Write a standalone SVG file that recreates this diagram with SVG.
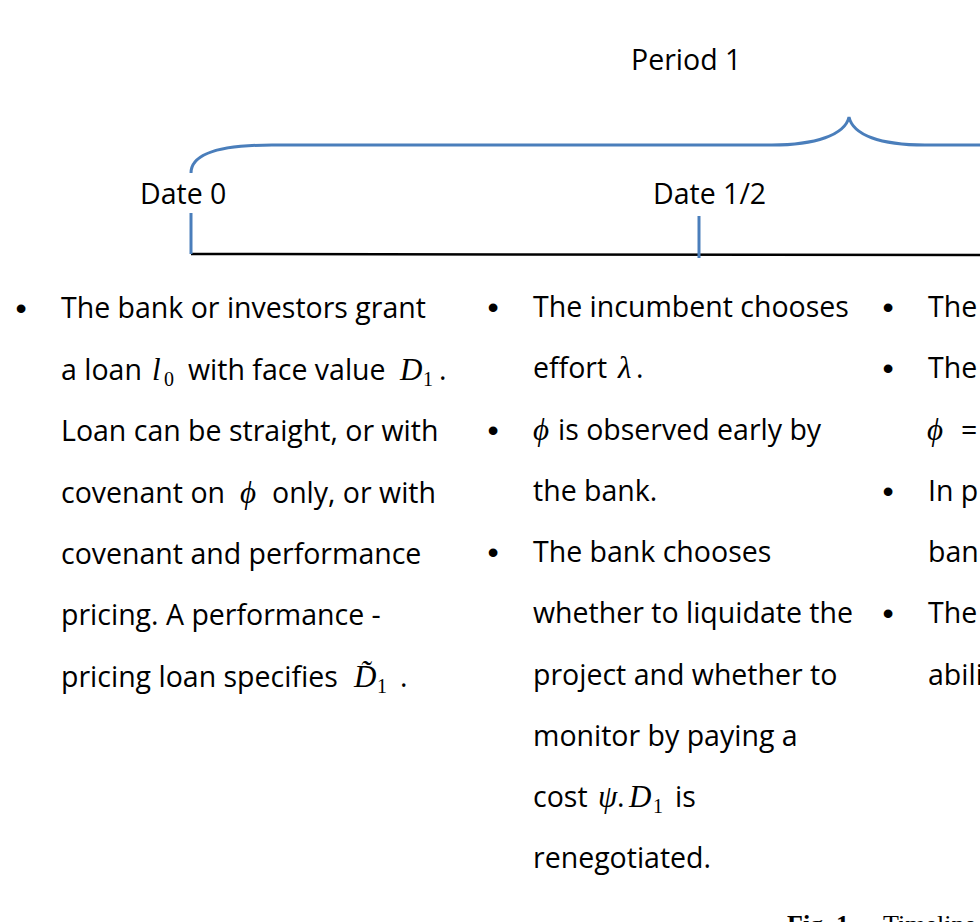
<svg xmlns="http://www.w3.org/2000/svg" width="980" height="922" viewBox="0 0 980 922">
<style>
.t{font-family:"Open Sans","Liberation Sans",sans-serif;font-size:28.5px;fill:#000}
.m{font-family:"Liberation Serif","DejaVu Serif",serif;font-style:italic;font-size:31px;fill:#000}
.s{font-family:"Liberation Serif","DejaVu Serif",serif;font-size:20px;fill:#000}
.b{font-family:"Liberation Sans",sans-serif;font-size:32px;fill:#000}
.blue{fill:none;stroke:#4a7ebb;stroke-width:3}
.cap{font-family:"Liberation Serif",serif;font-size:26px;fill:#000}
</style>
<rect width="980" height="922" fill="#fff"/>
<g id="connectors">
  <path class="blue" d="M191,173 C191,154 218,145 272,145 L772,145 C815,145 845,135 849,117 C853,135 880,145 925,145 L980,145"/>
  <line x1="191" y1="254" x2="980" y2="255" stroke="#000" stroke-width="2.5"/>
  <line class="blue" x1="191" y1="213" x2="191" y2="254"/>
  <line class="blue" x1="699" y1="216" x2="699" y2="258"/>
</g>
<g id="period1"><text class="t" x="631" y="70">Period 1</text></g>
<g id="date0"><text class="t" x="140" y="204">Date 0</text></g>
<g id="date12"><text class="t" x="653" y="204">Date 1/2</text></g>
<g id="col1">
  <text class="b" x="21" y="319" text-anchor="middle">•</text>
  <text class="t" x="61" y="318">The bank or investors grant</text>
  <text class="t" x="61" y="380">a loan</text>
  <text class="m" x="152" y="380">l</text><text class="s" x="164" y="386">0</text>
  <text class="t" x="188" y="380">with face value</text>
  <text class="m" x="400" y="380">D</text><text class="s" x="423" y="386">1</text>
  <text class="t" x="439" y="380">.</text>
  <text class="t" x="61" y="441">Loan can be straight, or with</text>
  <text class="t" x="61" y="503">covenant on</text>
  <text class="m" x="240" y="503">ϕ</text>
  <text class="t" x="272" y="503">only, or with</text>
  <text class="t" x="61" y="564">covenant and performance</text>
  <text class="t" x="61" y="625">pricing. A performance -</text>
  <text class="t" x="61" y="687">pricing loan specifies</text>
  <text class="m" x="354" y="687">D&#x303;</text><text class="s" x="377" y="693">1</text>
  <text class="t" x="400" y="687">.</text>
</g>
<g id="col2">
  <text class="b" x="493" y="318" text-anchor="middle">•</text>
  <text class="t" x="533" y="317">The incumbent chooses</text>
  <text class="t" x="533" y="378">effort</text>
  <text class="m" x="618" y="378">λ</text>
  <text class="t" x="636" y="378">.</text>
  <text class="b" x="493" y="441" text-anchor="middle">•</text>
  <text class="m" x="533" y="440">ϕ</text>
  <text class="t" x="558" y="440">is observed early by</text>
  <text class="t" x="533" y="501">the bank.</text>
  <text class="b" x="493" y="563" text-anchor="middle">•</text>
  <text class="t" x="533" y="562">The bank chooses</text>
  <text class="t" x="533" y="623">whether to liquidate the</text>
  <text class="t" x="533" y="685">project and whether to</text>
  <text class="t" x="533" y="746">monitor by paying a</text>
  <text class="t" x="533" y="807">cost</text>
  <text class="m" x="598" y="807">ψ</text>
  <text class="t" x="617" y="807">.</text>
  <text class="m" x="629" y="807">D</text><text class="s" x="653" y="813">1</text>
  <text class="t" x="675" y="807">is</text>
  <text class="t" x="533" y="868">renegotiated.</text>
</g>
<g id="col3">
  <text class="b" x="888" y="318" text-anchor="middle">•</text>
  <text class="t" x="928" y="317">The</text>
  <text class="b" x="888" y="379" text-anchor="middle">•</text>
  <text class="t" x="928" y="378">The</text>
  <text class="m" x="927" y="440">ϕ</text>
  <text class="t" x="961" y="440">=</text>
  <text class="b" x="888" y="502" text-anchor="middle">•</text>
  <text class="t" x="928" y="501">In p</text>
  <text class="t" x="928" y="562">ban</text>
  <text class="b" x="888" y="624" text-anchor="middle">•</text>
  <text class="t" x="928" y="623">The</text>
  <text class="t" x="928" y="685">abili</text>
</g>
<g id="caption">
  <text class="cap" x="787" y="933"><tspan font-weight="bold">Fig. 1.</tspan></text>
  <text class="cap" x="883" y="933">Timeline</text>
</g>
</svg>
